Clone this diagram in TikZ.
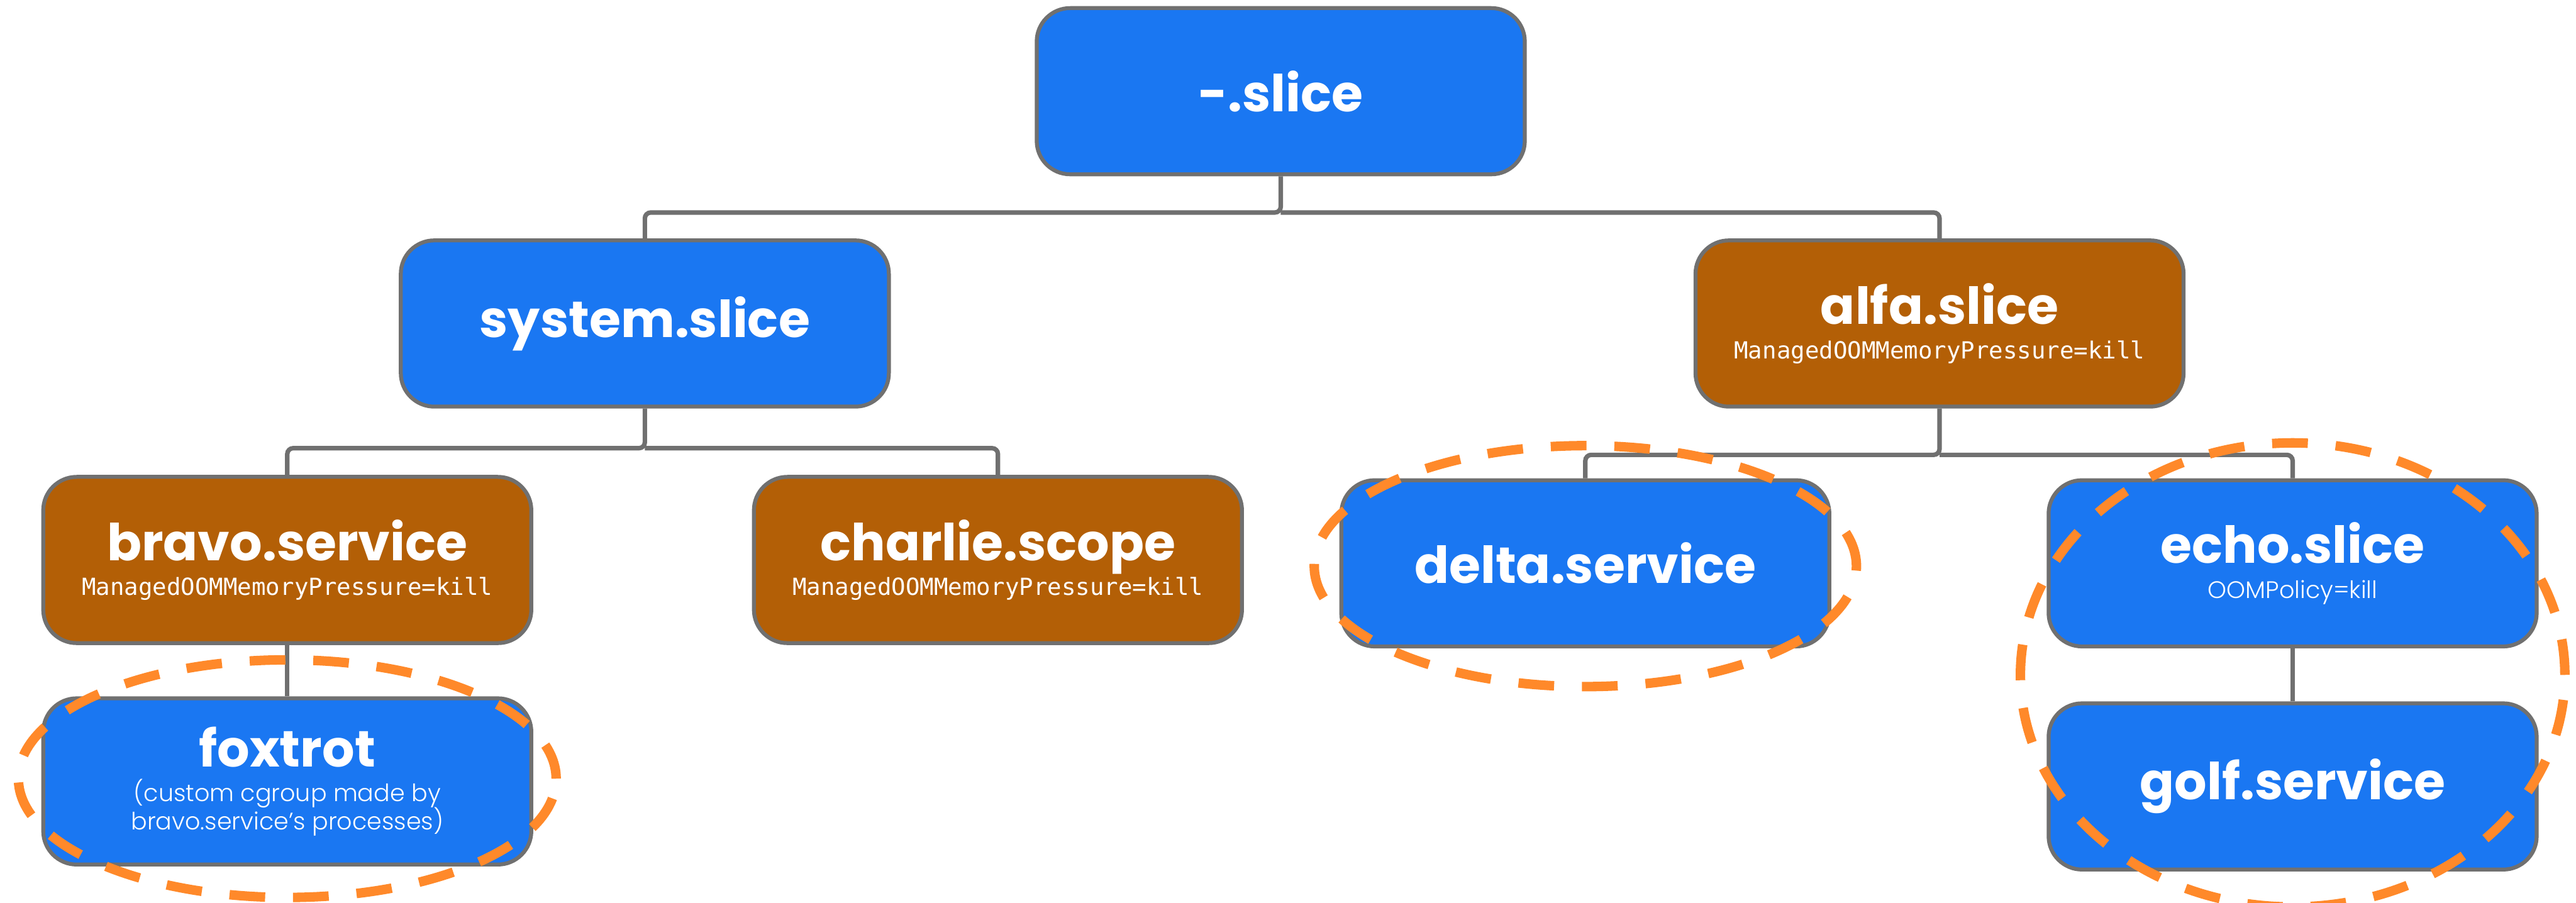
\documentclass[tikz,border=0pt]{standalone}
\usepackage{fontspec}
\setmainfont{Poppins}
\newfontfamily\lightfont{Poppins Light}
\newfontfamily\codefont{DejaVu Sans Mono}
\usepackage{xcolor}
\usetikzlibrary{positioning,calc}
\definecolor{unitblue}{RGB}{26,119,242}
\definecolor{unitbrown}{RGB}{179,95,6}
\definecolor{edgegray}{RGB}{112,112,112}
\definecolor{killorange}{RGB}{255,137,42}
\newcommand{\unitname}[1]{{\fontsize{26}{30}\selectfont\bfseries #1}}
\newcommand{\unitprop}[1]{{\fontsize{12}{14}\selectfont\codefont #1}}
\newcommand{\unitnote}[1]{{\fontsize{12.2}{14.5}\selectfont\lightfont #1}}

\begin{document}
\begin{tikzpicture}[
    unit/.style={draw=edgegray,line width=2pt,rounded corners=0.6cm,text=white,align=center,
      minimum width=8.75cm,minimum height=2.98cm,inner sep=0pt,font=\fontsize{12}{17.8}\selectfont},
    slice/.style={unit,fill=unitblue},
    killer/.style={unit,fill=unitbrown},
    link/.style={draw=edgegray,line width=2.3pt,rounded corners=3pt},
    ring/.style={draw=killorange,line width=0.17cm,dash pattern=on 0.64cm off 0.5cm}]
    \useasboundingbox (0,0) rectangle (46.18,-16.19);
    \node[slice] (root) at (22.96,-1.635) {\unitname{-.slice}};
    \node[slice] (sys) at (11.56,-5.80) {\unitname{system.slice}};
    \node[killer] (alfa) at (34.77,-5.80) {\unitname{alfa.slice}\\\unitprop{ManagedOOMMemoryPressure=kill}};
    \node[killer] (bravo) at (5.15,-10.04) {\unitname{bravo.service}\\\unitprop{ManagedOOMMemoryPressure=kill}};
    \node[killer] (charlie) at (17.89,-10.04) {\unitname{charlie.scope}\\\unitprop{ManagedOOMMemoryPressure=kill}};
    \node[slice] (delta) at (28.42,-10.10) {\unitname{delta.service}};
    \node[slice] (echo) at (41.10,-10.10) {\unitname{echo.slice}\\\unitnote{OOMPolicy=kill}};
    \node[slice,below=0.92cm of bravo] (fox) {\unitname{foxtrot}\\\unitnote{(custom cgroup made by}\\[-3.3pt]\unitnote{bravo.service’s processes)}};
    \node[slice,below=0.95cm of echo] (golf) {\unitname{golf.service}};
    % tree links
    \coordinate (rootbus) at ($(root.south)+(0,-0.65)$);
    \coordinate (sysbus) at ($(sys.south)+(0,-0.71)$);
    \coordinate (alfabus) at ($(alfa.south)+(0,-0.83)$);
    \draw[link] (root.south) -- (rootbus) -| (sys.north);
    \draw[link] (rootbus) -| (alfa.north);
    \draw[link] (sys.south) -- (sysbus) -| (bravo.north);
    \draw[link] (sysbus) -| (charlie.north);
    \draw[link] (alfa.south) -- (alfabus) -| (delta.north);
    \draw[link] (alfabus) -| (echo.north);
    \draw[link] (bravo.south) -- (fox.north);
    \draw[link] (echo.south) -- (golf.north);
    % killed groups
    \draw[ring] ($(fox.center)+(0,0.05)$) ellipse [x radius=4.82cm, y radius=2.13cm];
    \draw[ring] ($(delta.center)+(0,-0.05)$) ellipse [x radius=4.86cm, y radius=2.16cm];
    \draw[ring] ($(echo.center)!0.5!(golf.center)$) ellipse [x radius=4.88cm, y radius=4.16cm];
\end{tikzpicture}
\end{document}
